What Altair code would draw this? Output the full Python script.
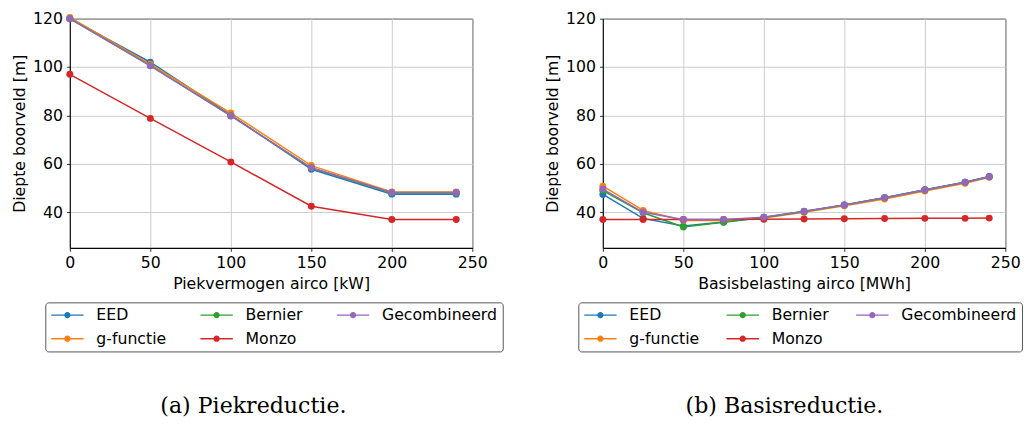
import altair as alt
import pandas as pd

series = ["EED", "g-functie", "Bernier", "Monzo", "Gecombineerd"]
series_colors = ["#1f77b4", "#ff7f0e", "#2ca02c", "#d62728", "#9467bd"]

piek_x = [0, 50, 100, 150, 200, 240]
piek_eed = [120.0, 102.0, 80.2, 57.8, 47.5, 47.5]
piek_gfun = [120.5, 101.2, 81.0, 59.3, 48.4, 48.4]
piek_bernier = [120.0, 100.6, 79.9, 58.3, 48.0, 48.0]
piek_monzo = [97.0, 78.8, 60.8, 42.5, 37.0, 37.0]
piek_comb = [120.0, 100.5, 79.8, 58.4, 48.2, 48.2]

basis_x = [0, 25, 50, 75, 100, 125, 150, 175, 200, 225, 240]
basis_eed = [47.4, 37.5, 34.3, 36.0, 38.0, 40.3, 43.0, 46.0, 49.3, 52.4, 54.8]
basis_gfun = [50.8, 40.8, 36.6, 36.6, 37.6, 40.0, 42.7, 45.5, 48.8, 52.0, 54.5]
basis_bernier = [49.0, 39.8, 33.9, 35.9, 37.8, 40.3, 43.0, 46.0, 49.2, 52.4, 54.7]
basis_monzo = [37.0, 37.0, 37.0, 37.0, 37.1, 37.2, 37.3, 37.4, 37.5, 37.5, 37.6]
basis_comb = [49.6, 40.0, 37.0, 37.0, 38.0, 40.4, 43.0, 46.0, 49.2, 52.4, 54.7]

x_ticks = [0, 50, 100, 150, 200, 250]
y_ticks = [40, 60, 80, 100, 120]

# legend symbol: a short line with a (nearly) filled circle marker on it
LINE_MARKER = ("M-1,0L1,0"
               "M0.15,0A0.15,0.15,0,1,1,-0.15,0A0.15,0.15,0,1,1,0.15,0"
               "M0.075,0A0.075,0.075,0,1,1,-0.075,0A0.075,0.075,0,1,1,0.075,0"
               "M0.02,0A0.02,0.02,0,1,1,-0.02,0A0.02,0.02,0,1,1,0.02,0")


def panel(xs, lists, xtitle, caption, dx, colpad):
    rows = []
    for name, vals in zip(series, lists):
        for x, y in zip(xs, vals):
            rows.append({"x": x, "y": y, "serie": name})
    df = pd.DataFrame(rows)
    color_scale = alt.Scale(domain=series, range=series_colors)
    base = alt.Chart(df).encode(
        x=alt.X("x:Q", scale=alt.Scale(domain=[0, 250], nice=False),
                axis=alt.Axis(values=x_ticks, title=xtitle)),
        y=alt.Y("y:Q", scale=alt.Scale(domain=[25.3, 120], nice=False, zero=False),
                axis=alt.Axis(values=y_ticks, title="Diepte boorveld [m]")),
    )
    lines = base.mark_line(strokeWidth=1.5).encode(
        color=alt.Color("serie:N", scale=color_scale,
                        legend=alt.Legend(
                            orient="none", legendX=-25, legendY=289, columns=3,
                            direction="vertical",
                            columnPadding=colpad, rowPadding=8, padding=5, clipHeight=16,
                            symbolSize=1089, symbolType=LINE_MARKER,
                            symbolStrokeWidth=1.5,
                            labelFontSize=16, labelFont="DejaVu Sans",
                            labelOffset=12, labelColor="black", title=None,
                            strokeColor="#555555", cornerRadius=3,
                            fillColor="white")),
    )
    points = base.mark_point(filled=True, size=50, opacity=1).encode(
        color=alt.Color("serie:N", scale=color_scale, legend=None),
    )
    return alt.layer(lines, points).properties(
        width=410, height=233.5,
        title=alt.TitleParams(text=caption, orient="bottom", font="DejaVu Serif",
                              fontSize=22.5, fontWeight="normal", color="black",
                              anchor="middle", offset=44, dx=dx),
    )


left = panel(piek_x, [piek_eed, piek_gfun, piek_bernier, piek_monzo, piek_comb],
             "Piekvermogen airco [kW]", "(a) Piekreductie.", -18, 33)
right = panel(basis_x, [basis_eed, basis_gfun, basis_bernier, basis_monzo, basis_comb],
              "Basisbelasting airco [MWh]", "(b) Basisreductie.", -20, 26)

chart = alt.hconcat(left, right, spacing=41).resolve_scale(
    color="independent"
).resolve_legend(color="independent").properties(
    padding={"left": 3, "top": -2, "right": 0, "bottom": 0}
).configure_view(stroke="black", strokeWidth=1).configure_axis(
    domainColor="black", tickColor="black", tickSize=3.5, tickWidth=0.8,
    labelFont="DejaVu Sans", labelFontSize=16, labelColor="black", labelPadding=4,
    titleFont="DejaVu Sans", titleFontSize=16, titleFontWeight="normal",
    titleColor="black", titlePadding=5, gridColor="#cccccc", gridWidth=1,
    labelFlush=False,
)

chart.save("out.html", embed_options={"renderer": "svg", "actions": False})
